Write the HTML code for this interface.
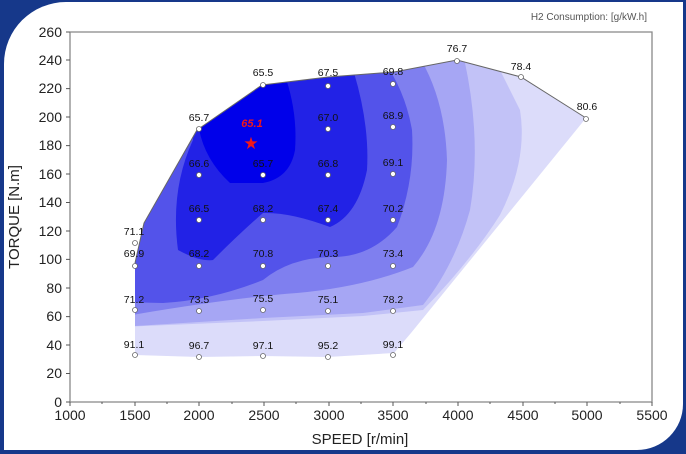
<!DOCTYPE html>
<html><head><meta charset="utf-8"><style>
html,body{margin:0;padding:0;width:686px;height:454px;overflow:hidden;background:#16388a;}
#p{position:absolute;left:4px;top:2px;width:679px;height:448px;background:#fff;border-top-left-radius:62px;border-bottom-right-radius:46px;}
svg{position:absolute;left:0;top:0;}
text{font-family:"Liberation Sans",sans-serif;}
.t{font-size:14px;fill:#222;}
.d{font-size:10.5px;fill:#111;text-anchor:middle;}
</style></head><body>
<div id="p"></div>
<svg width="686" height="454" viewBox="0 0 686 454">
<defs><clipPath id="env"><polygon points="135,263 144,223 197,130 262,85 328,77 394,72 457,60 521,77 586,118 411,333 394,353 328,357 262,356 199,357 135,355"/></clipPath></defs>
<g clip-path="url(#env)">
<rect x="100" y="40" width="520" height="340" fill="#dcdcfa"/>
<path d="M120,327 L263,321 L363,316 L423,310 Q470,262 500,215 Q528,160 520,110 L495,60 L120,40 Z" fill="#c2c2f7"/>
<path d="M120,327 L263,318 L363,313 L423,305 Q455,265 470,210 Q482,140 464,58 L120,40 Z" fill="#a6a6f4"/>
<path d="M120,317 Q230,298 297,293 Q363,287 413,267 Q445,230 447,160 Q445,100 420,58 L120,40 Z" fill="#7f7fef"/>
<path d="M120,302 L163,303 Q213,300 263,280 Q290,258 330,257 Q370,258 397,227 Q415,180 412,130 Q405,90 383,60 L120,40 Z" fill="#5353ea"/>
<path d="M193,140 Q170,190 178,250 Q200,262 213,260 Q240,233 263,213 Q290,212 330,227 Q358,215 367,170 Q370,120 350,60 L190,60 Z" fill="#2222e6"/>
<path d="M199,129 Q205,160 230,183 L263,183 Q290,178 295,150 Q298,110 283,70 L199,70 Z" fill="#0000ea"/>
</g>
<polyline points="135,263 144,223 197,130 262,85 328,77 394,72 457,60 521,77 586,118" fill="none" stroke="#666" stroke-width="1"/>
<polyline points="70,32 652,32 652,402 70,402 70,32" fill="none" stroke="#888" stroke-width="1.3"/>
<g stroke="#555" stroke-width="1">
<path d="M70,402v4M135,402v4M199,402v4M264,402v4M329,402v4M393,402v4M458,402v4M523,402v4M587,402v4M652,402v4"/>
<path d="M102,402v2M167,402v2M232,402v2M296,402v2M361,402v2M426,402v2M490,402v2M555,402v2M620,402v2"/>
<path d="M66,402h4M66,373.5h4M66,345h4M66,316.6h4M66,288h4M66,259.4h4M66,231h4M66,202.5h4M66,174h4M66,145.6h4M66,117h4M66,88.6h4M66,60h4M66,32h4"/>
</g>
<g class="t" text-anchor="end">
<text x="62" y="407">0</text><text x="62" y="378">20</text><text x="62" y="350">40</text><text x="62" y="321">60</text><text x="62" y="293">80</text><text x="62" y="264">100</text><text x="62" y="236">120</text><text x="62" y="207">140</text><text x="62" y="179">160</text><text x="62" y="150">180</text><text x="62" y="122">200</text><text x="62" y="93">220</text><text x="62" y="65">240</text><text x="62" y="37">260</text>
</g>
<g class="t" text-anchor="middle">
<text x="70" y="420">1000</text><text x="135" y="420">1500</text><text x="199" y="420">2000</text><text x="264" y="420">2500</text><text x="329" y="420">3000</text><text x="393" y="420">3500</text><text x="458" y="420">4000</text><text x="523" y="420">4500</text><text x="587" y="420">5000</text><text x="652" y="420">5500</text>
</g>
<text x="360" y="444" class="t" text-anchor="middle" style="font-size:15px">SPEED [r/min]</text>
<text transform="translate(19,217) rotate(-90)" class="t" text-anchor="middle" style="font-size:15px">TORQUE [N.m]</text>
<text x="647" y="20" text-anchor="end" style="font-size:10px;fill:#555">H2 Consumption: [g/kW.h]</text>
<g fill="#fff" stroke="#666" stroke-width="0.8">
<circle cx="135" cy="355" r="2.5"/><circle cx="199" cy="357" r="2.5"/><circle cx="263" cy="356" r="2.5"/><circle cx="328" cy="357" r="2.5"/><circle cx="393" cy="355" r="2.5"/>
<circle cx="135" cy="310" r="2.5"/><circle cx="199" cy="311" r="2.5"/><circle cx="263" cy="310" r="2.5"/><circle cx="328" cy="311" r="2.5"/><circle cx="393" cy="311" r="2.5"/>
<circle cx="135" cy="266" r="2.5"/><circle cx="199" cy="266" r="2.5"/><circle cx="263" cy="266" r="2.5"/><circle cx="328" cy="266" r="2.5"/><circle cx="393" cy="266" r="2.5"/>
<circle cx="135" cy="243" r="2.5"/>
<circle cx="199" cy="220" r="2.5"/><circle cx="263" cy="220" r="2.5"/><circle cx="328" cy="220" r="2.5"/><circle cx="393" cy="220" r="2.5"/>
<circle cx="199" cy="175" r="2.5"/><circle cx="263" cy="175" r="2.5"/><circle cx="328" cy="175" r="2.5"/><circle cx="393" cy="174" r="2.5"/>
<circle cx="199" cy="129" r="2.5"/><circle cx="328" cy="129" r="2.5"/><circle cx="393" cy="127" r="2.5"/>
<circle cx="263" cy="85" r="2.5"/><circle cx="328" cy="86" r="2.5"/><circle cx="393" cy="84" r="2.5"/>
<circle cx="457" cy="61" r="2.5"/><circle cx="521" cy="77" r="2.5"/><circle cx="586" cy="119" r="2.5"/>
</g>
<g class="d">
<text x="134" y="348">91.1</text><text x="199" y="349">96.7</text><text x="263" y="349">97.1</text><text x="328" y="349">95.2</text><text x="393" y="348">99.1</text>
<text x="134" y="303">71.2</text><text x="199" y="303">73.5</text><text x="263" y="302">75.5</text><text x="328" y="303">75.1</text><text x="393" y="303">78.2</text>
<text x="134" y="257">69.9</text><text x="199" y="257">68.2</text><text x="263" y="257">70.8</text><text x="328" y="257">70.3</text><text x="393" y="257">73.4</text>
<text x="134" y="235">71.1</text>
<text x="199" y="212">66.5</text><text x="263" y="212">68.2</text><text x="328" y="212">67.4</text><text x="393" y="212">70.2</text>
<text x="199" y="167">66.6</text><text x="263" y="167">65.7</text><text x="328" y="167">66.8</text><text x="393" y="166">69.1</text>
<text x="199" y="121">65.7</text><text x="328" y="121">67.0</text><text x="393" y="119">68.9</text>
<text x="263" y="76">65.5</text><text x="328" y="76">67.5</text><text x="393" y="75">69.8</text>
<text x="457" y="52">76.7</text><text x="521" y="70">78.4</text><text x="587" y="110">80.6</text>
</g>
<text x="252" y="127" text-anchor="middle" style="font-size:11px;font-weight:bold;font-style:italic;fill:#f01818">65.1</text>
<text x="251" y="149" text-anchor="middle" style="font-size:17px;fill:#f01818">★</text>
</svg>
</body></html>
